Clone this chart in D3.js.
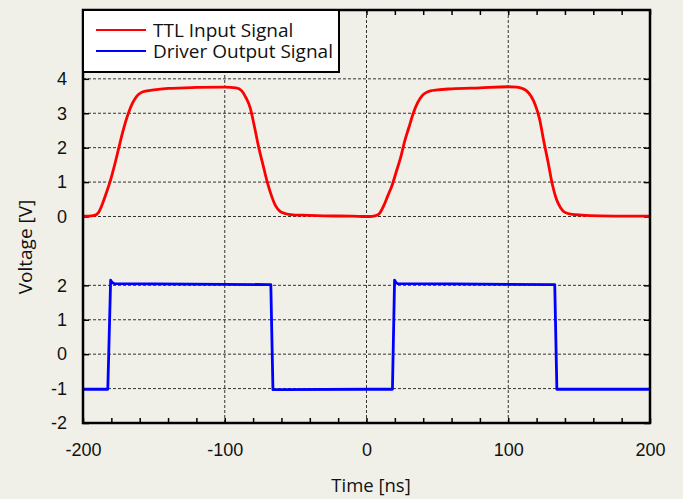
<!DOCTYPE html>
<html>
<head>
<meta charset="utf-8">
<script src="https://cdn.jsdelivr.net/npm/d3@7"></script>
<style>
  body { margin: 0; background: #f0f0e9; }
  svg { display: block; font-family: "Open Sans", "Noto Sans", sans-serif; }
</style>
</head>
<body>
<svg id="chart" width="683" height="499"></svg>
<script>
// TTL input (red), volts
var ttlTime = [-200, -196, -192, -189, -186, -183, -181, -178, -175, -172, -168, -165, -162, -159, -155, -150, -140, -120, -100, -92, -88, -85, -82, -79, -76, -73, -70, -67, -64, -61, -57, -52, -45, -30, -10, 0,
  2, 6, 9, 12, 15, 18, 21, 24, 27, 30, 33, 36, 39, 42, 45, 50, 60, 80, 100, 106, 110, 113, 116, 119, 122, 125, 128, 131, 134, 137, 140, 145, 152, 165, 185, 200];
var ttlVolt = [0.01, 0.01, 0.03, 0.12, 0.4, 0.75, 1.0, 1.45, 1.95, 2.45, 3.0, 3.3, 3.5, 3.6, 3.65, 3.68, 3.72, 3.75, 3.76, 3.74, 3.65, 3.45, 3.15, 2.6, 2.0, 1.5, 1.0, 0.6, 0.3, 0.15, 0.08, 0.05, 0.04, 0.02, 0.01, 0.0,
  0.0, 0.02, 0.08, 0.3, 0.6, 0.9, 1.3, 1.7, 2.2, 2.6, 3.0, 3.3, 3.5, 3.6, 3.65, 3.68, 3.71, 3.74, 3.77, 3.76, 3.72, 3.65, 3.5, 3.25, 2.85, 2.2, 1.6, 0.95, 0.5, 0.25, 0.12, 0.06, 0.04, 0.02, 0.01, 0.01];

// driver output (blue)
var drvTime = [-200, -182.5, -180.5, -179.5, -178, -150, -100, -67.5, -66, -60, 0, 18.3, 19.8, 20.8, 22, 60, 100, 132.8, 134.3, 150, 200];
var drvVolt = [-1.02, -1.02, 2.15, 2.08, 2.05, 2.04, 2.03, 2.02, -1.03, -1.03, -1.02, -1.02, 2.15, 2.08, 2.05, 2.04, 2.03, 2.02, -1.02, -1.02, -1.02];

var seriesNames = ['TTL Input Signal', 'Driver Output Signal'];
var seriesColors = ['#ff0000', '#0000ff'];

var xTicks = [-200, -100, 0, 100, 200];
var yTickVals = [-2, -1, 0, 1, 2, 4, 5, 6, 7, 8]; // upper trace sits 4 V higher
var yTickLabels = ['-2', '-1', '0', '1', '2', '0', '1', '2', '3', '4'];
var ttlOffset = 4;

var plotL = 83, plotR = 650, plotT = 10, plotB = 423;
var svg = d3.select('#chart');

var x = d3.scaleLinear().domain([-200, 200]).range([plotL, plotR]);
var y = d3.scaleLinear().domain([-2, 10]).range([plotB, plotT]);

svg.append('defs').append('clipPath').attr('id', 'clip')
  .append('rect').attr('x', plotL).attr('y', plotT).attr('width', plotR - plotL).attr('height', plotB - plotT);

// grid
var grid = svg.append('g').attr('stroke', '#333').attr('stroke-width', 1).attr('stroke-dasharray', '3,2');
grid.selectAll('.hg').data(yTickVals.filter(function(d) { return d !== -2; })).enter().append('line')
  .attr('x1', plotL).attr('x2', plotR).attr('y1', function(d) { return y(d); }).attr('y2', function(d) { return y(d); });
grid.selectAll('.vg').data([-100, 0, 100]).enter().append('line')
  .attr('y1', plotT).attr('y2', plotB).attr('x1', function(d) { return x(d); }).attr('x2', function(d) { return x(d); });

// axes with inward ticks
var minor = d3.range(-200, 201, 20);
function thinTicks(g) { g.select('.domain').remove(); g.selectAll('line').attr('stroke-width', 1.5); }
function plainLabels(g) { g.select('.domain').remove(); g.selectAll('text').attr('font-size', 18).attr('fill', '#111'); }

svg.append('g').attr('transform', 'translate(0,' + plotB + ')')
  .call(d3.axisTop(x).tickValues(minor).tickSize(5).tickFormat('')).call(thinTicks);
svg.append('g').attr('transform', 'translate(0,' + plotT + ')')
  .call(d3.axisBottom(x).tickValues(minor).tickSize(5).tickFormat('')).call(thinTicks);
svg.append('g').attr('transform', 'translate(0,' + plotB + ')')
  .call(d3.axisBottom(x).tickValues(xTicks).tickSize(0).tickPadding(20).tickFormat(function(d) { return String(d); }))
  .call(plainLabels);

svg.append('g').attr('transform', 'translate(' + plotL + ',0)')
  .call(d3.axisRight(y).tickValues(yTickVals).tickSize(6).tickFormat('')).call(thinTicks);
svg.append('g').attr('transform', 'translate(' + plotR + ',0)')
  .call(d3.axisLeft(y).tickValues(yTickVals).tickSize(6).tickFormat('')).call(thinTicks);
svg.append('g').attr('transform', 'translate(' + plotL + ',0)')
  .call(d3.axisLeft(y).tickValues(yTickVals).tickSize(0).tickPadding(16)
    .tickFormat(function(d, i) { return yTickLabels[i]; }))
  .call(plainLabels);

// traces
var plot = svg.append('g').attr('clip-path', 'url(#clip)');
var ttlLine = d3.line().curve(d3.curveMonotoneX)
  .x(function(d, i) { return x(ttlTime[i]); })
  .y(function(d) { return y(d + ttlOffset); });
var drvLine = d3.line()
  .x(function(d, i) { return x(drvTime[i]); })
  .y(function(d) { return y(d); });
plot.append('path').datum(ttlVolt).attr('d', ttlLine)
  .attr('fill', 'none').attr('stroke', seriesColors[0]).attr('stroke-width', 2.8).attr('stroke-linejoin', 'round');
plot.append('path').datum(drvVolt).attr('d', drvLine)
  .attr('fill', 'none').attr('stroke', seriesColors[1]).attr('stroke-width', 2.8).attr('stroke-linejoin', 'round');

// frame
svg.append('rect').attr('x', plotL).attr('y', plotT).attr('width', plotR - plotL).attr('height', plotB - plotT)
  .attr('fill', 'none').attr('stroke', '#000').attr('stroke-width', 2.5);

// legend
var lg = svg.append('g');
lg.append('rect').attr('x', plotL).attr('y', plotT).attr('width', 256).attr('height', 62)
  .attr('fill', '#fff').attr('stroke', '#000').attr('stroke-width', 2);
seriesNames.forEach(function(name, i) {
  var ly = 30 + i * 21;
  lg.append('line').attr('x1', 96).attr('x2', 146).attr('y1', ly).attr('y2', ly)
    .attr('stroke', seriesColors[i]).attr('stroke-width', 2);
  lg.append('text').attr('x', 153).attr('y', ly + 7).attr('font-size', 19).attr('fill', '#111').text(name);
});

// axis titles
svg.append('text').attr('x', 371).attr('y', 492).attr('text-anchor', 'middle')
  .attr('font-size', 18.5).attr('fill', '#111').text('Time [ns]');
svg.append('text').attr('transform', 'translate(32,247) rotate(-90)').attr('text-anchor', 'middle')
  .attr('font-size', 19).attr('fill', '#111').text('Voltage [V]');
</script>
</body>
</html>
